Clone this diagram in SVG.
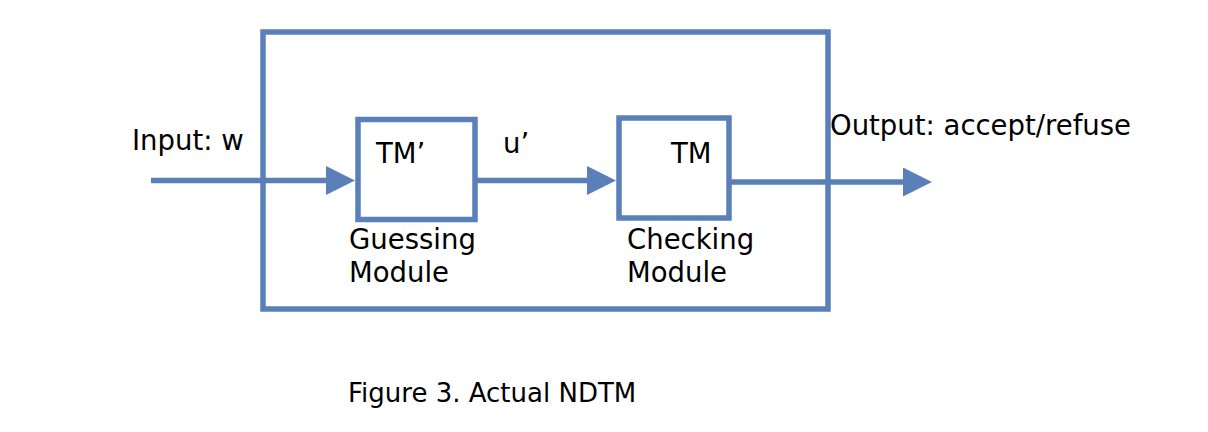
<svg xmlns="http://www.w3.org/2000/svg" width="1208" height="432" viewBox="0 0 1208 432">
<style>
.box{fill:#fff;stroke:#5A7FB9;stroke-width:5.5}
.frame{fill:none;stroke:#5A7FB9;stroke-width:5.5}
.conn{stroke:#5A7FB9;stroke-width:5.5;fill:none}
.t{font-family:"DejaVu Sans",sans-serif;font-size:27.5px;fill:#000}
</style>
<defs>
<marker id="ah" markerUnits="userSpaceOnUse" markerWidth="30" markerHeight="30" refX="19" refY="14.5" orient="auto">
<path d="M0,0 L29,14.5 L0,29 Z" fill="#5A7FB9"/>
</marker>
</defs>
<rect width="1208" height="432" fill="#fff"/>
<g id="ndtm">
<rect class="frame" x="263" y="32" width="565" height="277"/>
</g>
<g id="connectors">
<line class="conn" x1="151" y1="180.5" x2="345" y2="180.5" marker-end="url(#ah)"/>
<line class="conn" x1="475" y1="180.5" x2="606" y2="180.5" marker-end="url(#ah)"/>
<line class="conn" x1="730" y1="182" x2="922" y2="182" marker-end="url(#ah)"/>
</g>
<g id="guessing">
<rect class="box" x="358" y="119.5" width="117" height="100"/>
<text class="t" x="376" y="163">TM’</text>
<text class="t" x="349" y="249">Guessing</text>
<text class="t" x="349" y="282">Module</text>
</g>
<g id="checking">
<rect class="box" x="619" y="118" width="110" height="100"/>
<text class="t" x="671" y="163">TM</text>
<text class="t" x="627" y="249">Checking</text>
<text class="t" x="627" y="282">Module</text>
</g>
<g id="labels">
<text class="t" x="132" y="150">Input: w</text>
<text class="t" x="503" y="153">u’</text>
<text class="t" x="830" y="135">Output: accept/refuse</text>
<text class="t" x="348" y="402" style="font-size:26px">Figure 3. Actual NDTM</text>
</g>
</svg>
